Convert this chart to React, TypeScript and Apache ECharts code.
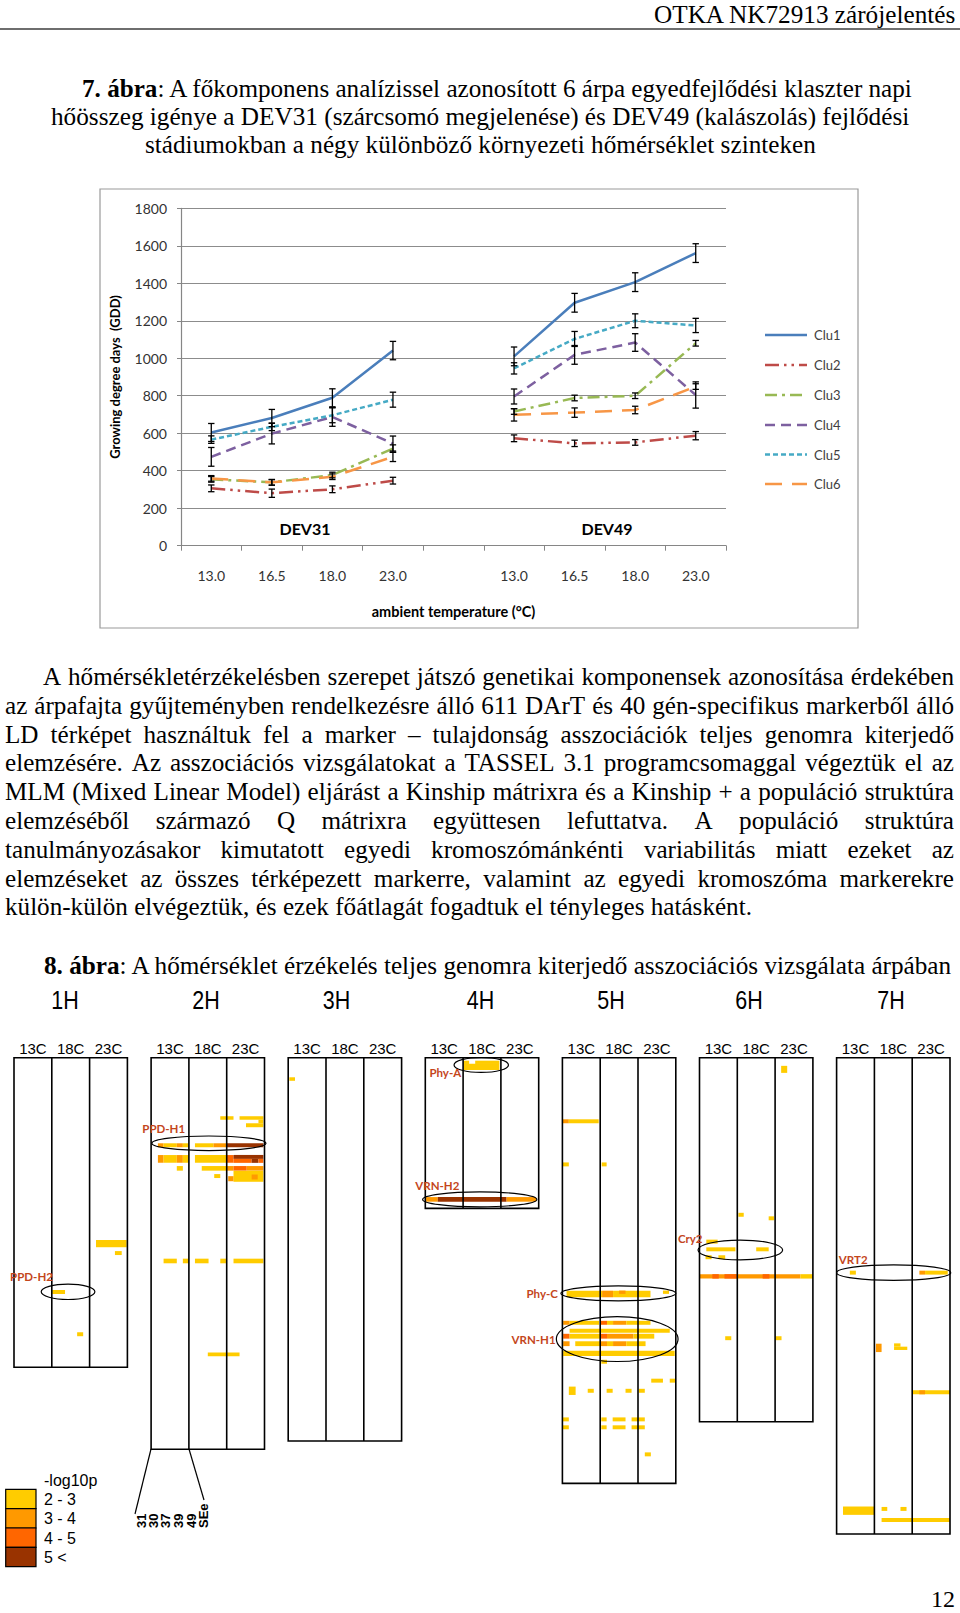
import React, { useEffect, useRef } from 'react';
import * as echarts from 'echarts';

const SERIF = 'Liberation Serif';
const SANS = 'Liberation Sans';
const CAL = 'Lato';

// ---------- Figure 7 data ----------
const tempCategories = ['13.0', '16.5', '18.0', '23.0', '', '13.0', '16.5', '18.0', '23.0'];
const clusterNames = ['Clu1', 'Clu2', 'Clu3', 'Clu4', 'Clu5', 'Clu6'];
// DEV31 (13.0,16.5,18.0,23.0), gap, DEV49 (13.0,16.5,18.0,23.0)
const clu1GDD = [604, 681, 789, 1041, null, 1010, 1296, 1406, 1561];
const clu2GDD = [306, 280, 301, 347, null, 573, 546, 551, 587];
const clu3GDD = [354, 338, 377, 518, null, 716, 788, 800, 1080];
const clu4GDD = [474, 598, 687, 545, null, 796, 1018, 1084, 804];
const clu5GDD = [566, 634, 696, 779, null, 946, 1103, 1200, 1175];
const clu6GDD = [359, 338, 368, 474, null, 698, 710, 724, 849];
// half error bars
const clu1Err = [48, 46, 48, 49, null, 50, 50, 50, 50];
const clu2Err = [18, 22, 18, 18, null, 18, 17, 15, 22];
const clu3Err = [15, 15, 15, 20, null, 15, 15, 15, 15];
const clu4Err = [50, 55, 50, 40, null, 40, 50, 47, 70];
const clu5Err = [20, 20, 40, 40, null, 30, 40, 37, 38];
const clu6Err = [15, 15, 15, 25, null, 33, 25, 20, 15];
const clusterGDD = [clu1GDD, clu2GDD, clu3GDD, clu4GDD, clu5GDD, clu6GDD];
const clusterErr = [clu1Err, clu2Err, clu3Err, clu4Err, clu5Err, clu6Err];
const clusterColors = ['#4A7EBB', '#BE4B48', '#98B954', '#7D60A0', '#46AAC5', '#F79646'];
const clusterDash: any[] = ['solid', [14, 5, 2.5, 5, 2.5, 5], [12, 5, 3, 5], [10, 6], [5, 3], [17, 10]];
const stageLabels = ['DEV31', 'DEV49'];

// ---------- Figure 8 data ----------
const chromNames = ['1H', '2H', '3H', '4H', '5H', '6H', '7H'];
const chromLengthCM = [140.7, 178, 174.2, 68.5, 193.5, 165.5, 216.5];
const tempColumns = ['13C', '18C', '23C'];
const levelLabels = ['2 - 3', '3 - 4', '4 - 5', '5 <'];
const levelColors = ['#FFCC00', '#FF9900', '#FF6600', '#993300'];
const traitLabels = ['31', '30', '37', '39', '49', 'SEe'];
// cells: [position cM (centre), column from, column to, level, thickness cM]
const cells1H = [
  [84.5, 2.17, 2.98, 1, 3.3], [88.8, 2.67, 2.85, 1, 1.8], [106.5, 1.01, 1.35, 1, 1.8], [125.7, 1.67, 1.83, 1, 1.8],
];
const cells2H = [
  [27.4, 1.83, 2.18, 1, 1.6], [27.4, 2.34, 2.97, 1, 1.6], [29.0, 2.84, 2.97, 1, 1.6], [30.7, 2.51, 2.97, 1, 1.8],
  [39.8, 0.18, 0.33, 2, 1.8], [39.8, 0.33, 0.68, 1, 1.8], [39.8, 0.68, 0.84, 2, 1.8], [39.8, 0.84, 0.99, 1, 1.8],
  [39.8, 1.16, 1.65, 1, 1.8], [39.8, 1.65, 2.0, 2, 1.8], [39.8, 2.0, 2.97, 4, 1.8],
  [46.0, 0.18, 0.33, 2, 3.5], [46.0, 0.33, 0.68, 1, 3.5], [46.0, 0.68, 0.84, 2, 3.5], [46.0, 0.84, 0.99, 1, 3.5],
  [46.0, 1.16, 2.0, 1, 3.5], [46.0, 2.0, 2.18, 3, 3.5], [45.1, 2.18, 2.97, 4, 1.8], [46.9, 2.18, 2.66, 3, 1.8],
  [46.9, 2.66, 2.84, 4, 1.8], [46.9, 2.84, 2.97, 3, 1.8],
  [50.3, 0.68, 0.84, 1, 2.1], [50.3, 1.34, 2.0, 1, 2.1], [50.3, 2.0, 2.18, 2, 2.1], [50.3, 2.18, 2.53, 3, 2.1],
  [50.3, 2.53, 2.97, 2, 2.1], [53.9, 2.18, 2.97, 1, 5.0], [55.0, 2.04, 2.18, 2, 2.3], [54.2, 2.66, 2.82, 2, 2.3],
  [53.8, 1.67, 1.83, 1, 1.8],
  [92.4, 0.33, 0.68, 1, 2.1], [92.4, 0.84, 0.99, 1, 2.1], [92.4, 1.16, 1.52, 1, 2.1], [92.4, 1.83, 1.98, 1, 2.1],
  [92.4, 2.18, 2.97, 1, 2.1], [134.8, 1.5, 2.34, 1, 1.7],
];
const cells3H = [[9.7, 0.03, 0.18, 1, 1.6]];
const cells4H = [
  [2.1, 1.01, 1.16, 1, 1.5], [2.1, 1.32, 1.96, 1, 1.5], [4.2, 1.01, 1.96, 1, 2.8],
  [64.4, 0.02, 0.33, 2, 2.1], [64.4, 0.33, 2.15, 4, 2.1], [64.4, 2.15, 2.93, 2, 2.1],
];
const cells5H = [
  [28.9, 0.01, 0.17, 2, 1.8], [28.9, 0.17, 0.96, 1, 1.8], [48.5, 0.01, 0.17, 1, 1.8], [48.5, 1.04, 1.17, 1, 1.8],
  [107.4, 0.11, 1.05, 1, 3.0], [107.4, 1.05, 1.34, 2, 3.0], [107.4, 1.34, 2.33, 1, 3.0], [106.6, 1.5, 1.67, 2, 1.5],
  [106.6, 2.66, 2.82, 1, 1.5],
  [120.5, 0.02, 0.19, 2, 1.8], [120.5, 0.19, 0.97, 1, 1.8], [120.5, 1.01, 1.18, 3, 1.8], [120.5, 1.18, 1.34, 1, 1.8],
  [120.5, 1.34, 1.69, 2, 1.8], [120.5, 1.69, 2.33, 1, 1.8], [124.1, 0.19, 2.84, 1, 1.8],
  [126.6, 0.02, 0.19, 3, 2.2], [126.6, 0.19, 1.01, 1, 2.2], [126.6, 1.01, 1.18, 3, 2.2], [126.6, 1.18, 1.88, 2, 2.2],
  [126.6, 1.88, 2.43, 1, 2.2], [130.0, 0.02, 0.19, 2, 2.2], [130.0, 0.34, 1.01, 1, 2.2], [130.0, 1.01, 1.18, 2, 2.2],
  [130.0, 1.18, 1.34, 1, 2.2], [130.0, 1.34, 1.69, 2, 2.2], [130.0, 1.69, 2.2, 1, 2.2],
  [134.4, 0.02, 2.97, 1, 2.4], [138.2, 1.03, 1.18, 1, 1.8],
  [146.8, 2.35, 2.66, 1, 1.8], [146.8, 2.84, 2.99, 1, 1.8],
  [151.4, 0.17, 0.35, 1, 3.8], [151.4, 0.67, 0.83, 1, 1.8], [151.4, 1.17, 1.33, 1, 1.8], [151.4, 1.67, 1.83, 1, 1.8],
  [151.4, 2.02, 2.18, 1, 1.8],
  [164.4, 0.01, 0.17, 1, 1.8], [164.4, 1.03, 1.17, 1, 1.8], [164.4, 1.33, 1.67, 1, 1.8], [164.4, 1.83, 2.18, 1, 1.8],
  [168.0, 0.01, 0.17, 1, 1.8], [168.0, 1.03, 1.17, 1, 1.8], [168.0, 1.33, 1.67, 1, 1.8], [168.0, 1.83, 2.18, 1, 1.8],
  [180.3, 2.18, 2.34, 1, 1.8],
];
const cells6H = [
  [5.3, 2.16, 2.32, 1, 3.2], [71.4, 1.03, 1.17, 1, 1.8], [73.0, 1.83, 1.97, 1, 1.8], [83.6, 0.18, 0.48, 1, 1.8],
  [87.1, 0.18, 0.95, 1, 1.8], [87.1, 1.5, 1.83, 1, 1.8], [90.7, 0.16, 0.32, 1, 1.8], [90.7, 0.5, 0.68, 1, 1.8],
  [99.4, 0.0, 2.67, 2, 2.0], [99.4, 0.34, 0.51, 3, 2.0], [99.4, 0.66, 0.99, 3, 2.0], [99.4, 1.67, 1.85, 3, 2.0],
  [99.4, 2.67, 3.0, 1, 2.0], [127.5, 0.68, 0.84, 1, 1.8], [127.5, 2.01, 2.17, 1, 1.8],
];
const cells7H = [
  [97.7, 0.35, 0.51, 1, 1.8], [97.7, 2.19, 2.34, 2, 1.8], [97.7, 2.34, 2.94, 1, 1.8],
  [131.9, 1.04, 1.19, 2, 3.8], [130.6, 1.52, 1.69, 1, 1.5], [132.1, 1.52, 1.87, 1, 1.5],
  [152.1, 2.02, 3.0, 1, 1.8], [152.1, 2.19, 2.34, 2, 1.8],
  [205.9, 0.17, 0.99, 1, 3.8], [205.1, 1.19, 1.34, 1, 1.8], [205.1, 1.69, 1.85, 1, 1.8], [210.1, 1.19, 3.0, 1, 1.8],
];
const chromCells = [cells1H, cells2H, cells3H, cells4H, cells5H, cells6H, cells7H];
// loci: chromosome, name, centre [column, cM], radius [column, cM], label anchor [column, cM], align
const lociChrom = [0, 1, 3, 3, 4, 4, 5, 6];
const lociNames = ['PPD-H2', 'PPD-H1', 'Phy-A', 'VRN-H2', 'Phy-C', 'VRN-H1', 'Cry2', 'VRT2'];
const lociCenter = [[1.43, 106.4], [1.53, 38.9], [1.48, 3.3], [1.44, 64.4], [1.48, 107.1], [1.45, 127.9], [1.08, 87.4], [1.51, 97.7]];
const lociRadius = [[0.71, 3.5], [1.51, 3.3], [0.72, 3.4], [1.51, 3.4], [1.52, 3.4], [1.61, 10.2], [1.12, 4.5], [1.51, 3.5]];
const lociLabel = [[1.03, 99.5], [0.9, 32.4], [0.95, 6.5], [0.9, 57.9], [-0.12, 107], [-0.18, 127.9], [0.08, 82], [0.06, 91.5]];
const lociAlign = ['right', 'right', 'right', 'right', 'right', 'right', 'right', 'left'];

// ---------- Text ----------
const headerText = 'OTKA NK72913 zárójelentés';
const title7 = [
  [{ t: '7. ábra', b: true }, { t: ': A főkomponens analízissel azonosított 6 árpa egyedfejlődési klaszter napi', b: false }],
  [{ t: 'hőösszeg igénye a DEV31 (szárcsomó megjelenése) és DEV49 (kalászolás) fejlődési', b: false }],
  [{ t: 'stádiumokban a négy különböző környezeti hőmérséklet szinteken', b: false }],
];
const paraLines = [
  'A hőmérsékletérzékelésben szerepet játszó genetikai komponensek azonosítása érdekében',
  'az árpafajta gyűjteményben rendelkezésre álló 611 DArT és 40 gén-specifikus markerből álló',
  'LD térképet használtuk fel a marker – tulajdonság asszociációk teljes genomra kiterjedő',
  'elemzésére. Az asszociációs vizsgálatokat a TASSEL 3.1 programcsomaggal végeztük el az',
  'MLM (Mixed Linear Model) eljárást a Kinship mátrixra és a Kinship + a populáció struktúra',
  'elemzéséből származó Q mátrixra együttesen lefuttatva. A populáció struktúra',
  'tanulmányozásakor kimutatott egyedi kromoszómánkénti variabilitás miatt ezeket az',
  'elemzéseket az összes térképezett markerre, valamint az egyedi kromoszóma markerekre',
  'külön-külön elvégeztük, és ezek főátlagát fogadtuk el tényleges hatásként.',
];
const title8 = [{ t: '8. ábra', b: true }, { t: ': A hőmérséklet érzékelés teljes genomra kiterjedő asszociációs vizsgálata árpában', b: false }];

function buildOption() {
  const cv = document.createElement('canvas').getContext('2d') as CanvasRenderingContext2D;
  const tw = (t: string, size: number, bold: boolean, fam: string) => {
    cv.font = `${bold ? 'bold' : 'normal'} ${size}px "${fam}"`;
    return cv.measureText(t).width;
  };
  const txt = (text: string, x: number, y: number, o: any = {}) => ({
    type: 'text', x, y, scaleX: o.sx ?? 1, rotation: o.rot ?? 0, silent: true, z: 10,
    style: {
      text, fill: o.color ?? '#000', fontSize: o.size ?? 16, fontFamily: o.family ?? SERIF,
      fontWeight: o.bold ? 'bold' : 'normal', textAlign: o.align ?? 'left', textVerticalAlign: o.va ?? 'middle',
    },
  });
  const runsFit = (runs: any[], x0: number, x1: number, y: number, size: number, fam = SERIF) => {
    const ws = runs.map((r) => tw(r.t, size, !!r.b, fam));
    const s = (x1 - x0) / ws.reduce((a, b) => a + b, 0);
    let x = x0;
    return runs.map((r, i) => {
      const el = txt(r.t, x, y, { size, bold: r.b, sx: s, family: fam });
      x += ws[i] * s;
      return el;
    });
  };
  const els: any[] = [];
  // header
  els.push(...runsFit([{ t: headerText }], 654, 957, 14, 26));
  els.push({ type: 'line', shape: { x1: 0, y1: 29, x2: 960, y2: 29 }, style: { stroke: '#6e6e6e', lineWidth: 2 }, silent: true });
  // title 7
  const t7pos = [[82, 915, 88.5], [51, 910, 116], [145, 816, 144]];
  title7.forEach((runs, i) => els.push(...runsFit(runs, t7pos[i][0], t7pos[i][1], t7pos[i][2], 26)));
  // chart frame
  els.push({ type: 'rect', shape: { x: 100, y: 189, width: 758, height: 439 }, style: { fill: 'none', stroke: '#9a9a9a', lineWidth: 1.2 }, silent: true, z: -1 });
  els.push(txt(stageLabels[0], 305, 528, { size: 16, bold: true, family: CAL, align: 'center' }));
  els.push(txt(stageLabels[1], 607, 528, { size: 16, bold: true, family: CAL, align: 'center' }));
  // fig 7 legend
  const legY = [335, 365, 395, 425, 454.5, 484];
  clusterNames.forEach((n, k) => {
    const dash = clusterDash[k];
    els.push({
      type: 'line', shape: { x1: 765, y1: legY[k], x2: 807, y2: legY[k] }, silent: true,
      style: { stroke: clusterColors[k], lineWidth: 2.5, lineDash: dash === 'solid' ? null : dash },
    });
    els.push(txt(n, 814, legY[k], { size: 13, family: CAL, color: '#404040' }));
  });
  // paragraph
  const paraY = [676, 705, 734, 762.5, 791, 820, 849, 878, 906.5];
  const pSize = 26;
  const last = paraLines[paraLines.length - 1];
  const ps = (752 - 5) / tw(last, pSize, false, SERIF);
  paraLines.forEach((line, i) => {
    const words = line.split(' ');
    const ws = words.map((w) => tw(w, pSize, false, SERIF) * ps);
    const total = ws.reduce((a, b) => a + b, 0);
    const x0 = i === 0 ? 43 : 5;
    const isLast = i === paraLines.length - 1;
    const gap = isLast ? tw(' ', pSize, false, SERIF) * ps : (954 - x0 - total) / (words.length - 1);
    let x = x0;
    words.forEach((w, k) => {
      els.push(txt(w, x, paraY[i], { size: pSize, sx: ps }));
      x += ws[k] + gap;
    });
  });
  // title 8
  els.push(...runsFit(title8, 44, 954, 965, 26));
  // chromosome names
  const chromLabelX = [65, 206, 336.5, 480.5, 611, 749, 891];
  chromNames.forEach((n, i) => els.push(txt(n, chromLabelX[i], 1000, { size: 25, family: SANS, align: 'center', sx: 0.86 })));
  // 2H callout
  els.push({ type: 'line', shape: { x1: 151, y1: 1449, x2: 135, y2: 1514 }, style: { stroke: '#000', lineWidth: 1.2 }, silent: true });
  els.push({ type: 'line', shape: { x1: 189, y1: 1449, x2: 204, y2: 1500 }, style: { stroke: '#000', lineWidth: 1.2 }, silent: true });
  const traitX = [141.7, 153.3, 165.7, 178.3, 191, 203.3];
  traitLabels.forEach((t, i) => els.push(txt(t, traitX[i], 1528, { size: 13, bold: true, family: SANS, rot: Math.PI / 2 })));
  // fig 8 legend
  els.push(txt('-log10p', 44, 1480, { size: 16, family: SANS }));
  levelLabels.forEach((l, i) => {
    const top = 1489.3 + i * 19.35;
    els.push({ type: 'rect', shape: { x: 5.7, y: top, width: 30.3, height: 19.35 }, style: { fill: levelColors[i], stroke: '#000', lineWidth: 1.2 }, silent: true });
    els.push(txt(l, 44, top + 10, { size: 16, family: SANS }));
  });
  // page number
  els.push(txt('12', 955, 1599, { size: 24, align: 'right' }));

  // ---------- series ----------
  const series: any[] = [];
  clusterNames.forEach((name, k) => {
    series.push({
      type: 'line', name, xAxisIndex: 0, yAxisIndex: 0, data: clusterGDD[k], symbol: 'none', showSymbol: false,
      connectNulls: false, z: 3,
      lineStyle: { color: clusterColors[k], width: 2.5, type: clusterDash[k] },
      itemStyle: { color: clusterColors[k] },
    });
  });
  const errData: any[] = [];
  clusterGDD.forEach((vals, k) => vals.forEach((v, i) => {
    if (v == null) return;
    const e = clusterErr[k][i] as number;
    errData.push([i, v - e, v + e]);
  }));
  series.push({
    type: 'custom', name: 'error', xAxisIndex: 0, yAxisIndex: 0, data: errData, z: 4, silent: true,
    renderItem: (params: any, api: any) => {
      const x = api.value(0);
      const top = api.coord([x, api.value(2)]);
      const bot = api.coord([x, api.value(1)]);
      const w = 3.2;
      const st = { stroke: '#000', lineWidth: 1.3 };
      return {
        type: 'group', children: [
          { type: 'line', shape: { x1: top[0], y1: top[1], x2: bot[0], y2: bot[1] }, style: st },
          { type: 'line', shape: { x1: top[0] - w, y1: top[1], x2: top[0] + w, y2: top[1] }, style: st },
          { type: 'line', shape: { x1: bot[0] - w, y1: bot[1], x2: bot[0] + w, y2: bot[1] }, style: st },
        ],
      };
    },
  });

  // fig 8 grids / axes / series
  const grids: any[] = [{ left: 181, top: 208.3, width: 545, height: 337.4 }];
  const xAxes: any[] = [{
    type: 'category', gridIndex: 0, data: tempCategories, boundaryGap: true,
    axisLine: { lineStyle: { color: '#868686', width: 1.2 } },
    axisTick: { show: true, interval: 0, length: 5, lineStyle: { color: '#868686' } },
    axisLabel: { interval: 0, margin: 23, fontSize: 14, color: '#333', fontFamily: CAL },
    name: 'ambient temperature (°C)', nameLocation: 'middle', nameGap: 58,
    nameTextStyle: { fontWeight: 'bold', fontSize: 14.5, color: '#000', fontFamily: CAL },
  }];
  const yAxes: any[] = [{
    type: 'value', gridIndex: 0, min: 0, max: 1800, interval: 200,
    axisLine: { show: true, lineStyle: { color: '#868686', width: 1.2 } },
    axisTick: { show: true, length: 4, lineStyle: { color: '#868686' } },
    splitLine: { lineStyle: { color: '#8c8c8c', width: 1.2 } },
    axisLabel: { margin: 14, fontSize: 14, color: '#333', fontFamily: CAL, formatter: (v: number) => String(v) },
    name: 'Growing degree days  (GDD)', nameLocation: 'middle', nameGap: 60, nameRotate: 90,
    nameTextStyle: { fontWeight: 'bold', fontSize: 13, color: '#000', fontFamily: CAL },
  }];
  const pxPerCM = 2.2;
  chromNames.forEach((n, i) => {
    const L = chromLengthCM[i];
    grids.push({ left: 14 + i * 137.1, top: 1057.7, width: 113.4, height: L * pxPerCM });
    xAxes.push({ type: 'value', gridIndex: i + 1, min: 0, max: 3, show: false });
    xAxes.push({
      type: 'category', gridIndex: i + 1, position: 'top', data: tempColumns,
      axisLine: { show: false }, axisTick: { show: false }, splitLine: { show: false },
      axisLabel: { margin: 2, fontSize: 15, color: '#000', fontFamily: SANS },
    });
    yAxes.push({ type: 'value', gridIndex: i + 1, min: 0, max: L, inverse: true, show: false });
    const xi = 1 + 2 * i;
    const yi = 1 + i;
    series.push({
      type: 'custom', name: 'cells ' + n, xAxisIndex: xi, yAxisIndex: yi, z: 2, silent: true,
      data: chromCells[i].map((c) => [c[1], c[2], c[0], c[4], c[3]]),
      renderItem: (params: any, api: any) => {
        const yc = api.value(2);
        const h = api.value(3);
        const p0 = api.coord([api.value(0), yc - h / 2]);
        const p1 = api.coord([api.value(1), yc + h / 2]);
        return {
          type: 'rect',
          shape: { x: p0[0], y: Math.min(p0[1], p1[1]), width: p1[0] - p0[0], height: Math.abs(p1[1] - p0[1]) },
          style: { fill: levelColors[api.value(4) - 1] },
        };
      },
    });
    series.push({
      type: 'custom', name: 'outline ' + n, xAxisIndex: xi, yAxisIndex: yi, z: 5, silent: true,
      data: [[3, L]],
      renderItem: (params: any, api: any) => {
        const Lv = api.value(1);
        const p0 = api.coord([0, 0]);
        const p1 = api.coord([3, Lv]);
        const st = { stroke: '#000', lineWidth: 1.6, fill: 'none' };
        const ch: any[] = [{ type: 'rect', shape: { x: p0[0], y: p0[1], width: p1[0] - p0[0], height: p1[1] - p0[1] }, style: st }];
        [1, 2].forEach((c) => {
          const a = api.coord([c, 0]);
          const b = api.coord([c, Lv]);
          ch.push({ type: 'line', shape: { x1: a[0], y1: a[1], x2: b[0], y2: b[1] }, style: { stroke: '#000', lineWidth: 1.6 } });
        });
        return { type: 'group', children: ch };
      },
    });
    const idx = lociChrom.map((c, k) => (c === i ? k : -1)).filter((k) => k >= 0);
    if (idx.length) {
      series.push({
        type: 'custom', name: 'loci ' + n, xAxisIndex: xi, yAxisIndex: yi, z: 6, silent: true,
        data: idx.map((k) => [lociCenter[k][0], lociCenter[k][1], lociRadius[k][0], lociRadius[k][1], lociLabel[k][0], lociLabel[k][1]]),
        renderItem: (params: any, api: any) => {
          const k = idx[params.dataIndex];
          const c = api.coord([api.value(0), api.value(1)]);
          const r0 = api.coord([api.value(0) + api.value(2), api.value(1) + api.value(3)]);
          const lp = api.coord([api.value(4), api.value(5)]);
          return {
            type: 'group', children: [
              { type: 'ellipse', shape: { cx: c[0], cy: c[1], rx: Math.abs(r0[0] - c[0]), ry: Math.abs(r0[1] - c[1]) }, style: { fill: 'none', stroke: '#000', lineWidth: 1.2 } },
              { type: 'text', x: lp[0], y: lp[1], style: { text: lociNames[k], fill: '#C4461C', fontSize: 11.5, fontWeight: 'bold', fontFamily: CAL, textAlign: lociAlign[k], textVerticalAlign: 'middle' } },
            ],
          };
        },
      });
    }
  });

  return {
    animation: false,
    backgroundColor: '#ffffff',
    grid: grids,
    xAxis: xAxes,
    yAxis: yAxes,
    series,
    graphic: { elements: els },
  };
}

export default function App() {
  const ref = useRef<HTMLDivElement>(null);
  useEffect(() => {
    const chart = echarts.init(ref.current as HTMLDivElement, null, { renderer: 'svg' });
    chart.setOption(buildOption() as any);
    return () => chart.dispose();
  }, []);
  return <div ref={ref} style={{ position: 'absolute', left: 0, top: 0, width: 960, height: 1613, background: '#fff' }} />;
}
